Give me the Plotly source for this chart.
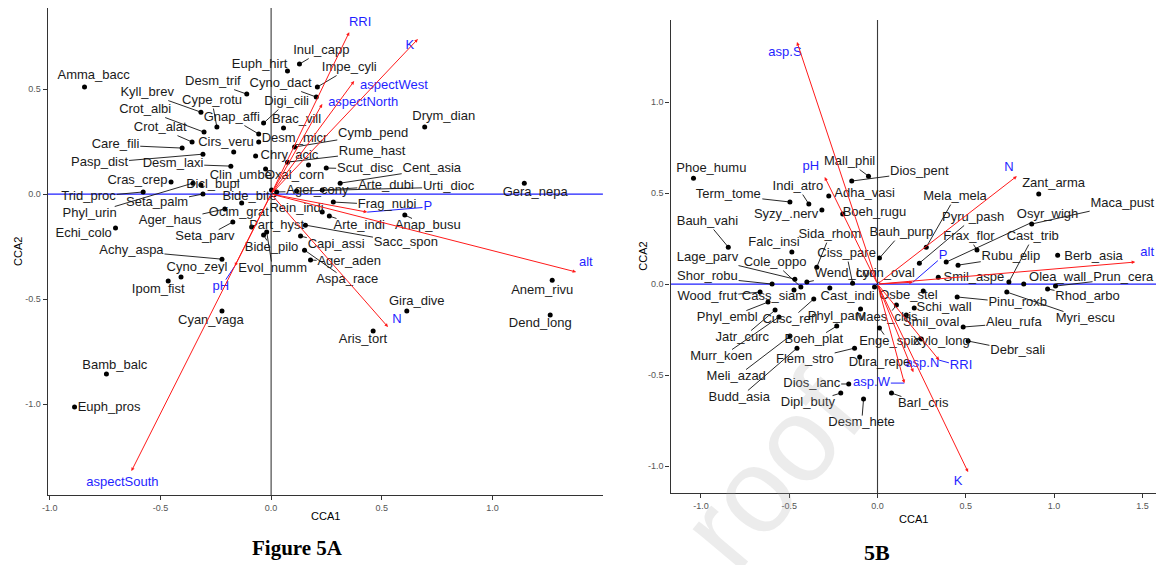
import math
import plotly.graph_objects as go

# ================= Figure 5A (species scores, CCA1/CCA2) =================
species_a = ["Amma_bacc", "Kyll_brev", "Crot_albi", "Crot_alat", "Care_fili", "Pasp_dist",
             "Desm_laxi", "Cirs_veru", "Cype_rotu", "Gnap_affi", "Desm_trif", "Euph_hirt",
             "Inul_capp", "Impe_cyli", "Cyno_dact", "Digi_cili", "Brac_vill", "Desm_micr",
             "Chry_acic", "Clin_umbe", "Oxal_corn", "Cymb_pend", "Rume_hast", "Scut_disc",
             "Cent_asia", "Arte_dubi", "Urti_dioc", "Ager_cony", "Gera_nepa", "Drym_dian",
             "Frag_nubi", "Anap_busu", "Arte_indi", "Rein_indi", "Sacc_spon", "Capi_assi",
             "Ager_aden", "Aspa_race", "Part_hyst", "Bide_pilo", "Evol_numm", "Bide_bite",
             "Ocim_grat", "Ager_haus", "Seta_parv", "Achy_aspa", "Cyno_zeyl", "Ipom_fist",
             "Cyan_vaga", "Echi_colo", "Phyl_urin", "Trid_proc", "Seta_palm", "Dicl_bupl",
             "Cras_crep", "Gira_dive", "Aris_tort", "Anem_rivu", "Dend_long", "Bamb_balc",
             "Euph_pros"]
cca1_a = [-0.843, -0.317, -0.303, -0.357, -0.402, -0.308, -0.182, -0.169, -0.245, -0.056,
          -0.110, 0.074, 0.128, 0.209, 0.204, -0.034, 0.056, -0.056, -0.070, -0.025,
          0.169, 0.106, 0.074, 0.249, 0.312, 0.231, 0.115, 0.025, 1.144, 0.694,
          0.281, 0.604, 0.263, 0.231, 0.155, 0.133, 0.178, 0.151, -0.088, -0.034,
          -0.020, 0.002, -0.133, -0.209, -0.173, -0.222, -0.407, -0.465, -0.222, -0.703,
          -0.353, -0.578, -0.308, -0.317, -0.452, 0.613, 0.461, 1.270, 1.261, -0.744,
          -0.888]
cca2_a = [0.510, 0.390, 0.295, 0.248, 0.219, 0.190, 0.133, 0.200, 0.319, 0.286,
          0.476, 0.586, 0.619, 0.510, 0.462, 0.338, 0.314, 0.248, 0.181, 0.119,
          0.138, 0.224, 0.152, 0.124, 0.052, 0.019, 0.014, 0.010, 0.052, 0.319,
          -0.038, -0.100, -0.105, -0.086, -0.148, -0.200, -0.314, -0.267, -0.157, -0.195,
          -0.181, 0.019, -0.043, -0.071, -0.133, -0.310, -0.395, -0.414, -0.557, -0.162,
          0.052, 0.010, 0.000, 0.043, 0.057, -0.557, -0.652, -0.410, -0.576, -0.857,
          -1.014]
# repelled label positions (data units)
label_a_x = [-0.802, -0.560, -0.569, -0.501, -0.703, -0.775, -0.443, -0.204, -0.267, -0.178,
             -0.263, -0.052, 0.227, 0.353, 0.043, 0.070, 0.115, 0.106, 0.083, -0.137,
             0.106, 0.461, 0.456, 0.425, 0.726, 0.519, 0.802, 0.209, 1.193, 0.780,
             0.524, 0.708, 0.398, 0.115, 0.609, 0.294, 0.353, 0.344, 0.025, 0.002,
             0.007, -0.097, -0.146, -0.456, -0.299, -0.631, -0.335, -0.510, -0.272, -0.847,
             -0.820, -0.825, -0.515, -0.263, -0.604, 0.658, 0.415, 1.225, 1.216, -0.706,
             -0.732]
label_a_y = [0.562, 0.481, 0.400, 0.314, 0.233, 0.148, 0.143, 0.243, 0.443, 0.362,
             0.533, 0.614, 0.681, 0.600, 0.524, 0.438, 0.352, 0.262, 0.181, 0.086,
             0.086, 0.286, 0.200, 0.119, 0.119, 0.038, 0.033, 0.014, 0.005, 0.367,
             -0.052, -0.152, -0.152, -0.071, -0.233, -0.243, -0.324, -0.410, -0.152, -0.257,
             -0.357, -0.014, -0.090, -0.129, -0.205, -0.271, -0.352, -0.457, -0.605, -0.190,
             -0.095, -0.014, -0.043, 0.043, 0.062, -0.514, -0.695, -0.462, -0.619, -0.819,
             -1.019]

env_a = ["RRI", "K", "aspectWest", "aspectNorth", "P", "alt", "N", "pH", "aspectSouth"]
env_a_cca1 = [0.353, 0.663, 0.375, 0.231, 0.434, 1.378, 0.528, -0.164, -0.631]
env_a_cca2 = [0.771, 0.738, 0.538, 0.429, -0.086, -0.371, -0.633, -0.343, -1.319]
env_a_lab_x = [0.402, 0.627, 0.555, 0.416, 0.708, 1.422, 0.569, -0.227, -0.672]
env_a_lab_y = [0.814, 0.705, 0.514, 0.433, -0.062, -0.329, -0.600, -0.443, -1.376]

ticks_a_x = [-1.0, -0.5, 0.0, 0.5, 1.0]
ticks_a_y = [-1.0, -0.5, 0.0, 0.5]

# ================= Figure 5B =================
species_b = ["Phoe_humu", "Term_tome", "Indi_atro", "Syzy_.nerv", "Adha_vasi", "Mall_phil",
             "Dios_pent", "Boeh_rugu", "Bauh_vahi", "Falc_insi", "Sida_rhom", "Bauh_purp",
             "Ciss_pare", "Lage_parv", "Shor_robu", "Cole_oppo", "Wend_cori", "Lyon_oval",
             "Wood_frut", "Cass_siam", "Cast_indi", "Osbe_stel", "Phyl_embl", "Jatr_curc",
             "Murr_koen", "Meli_azad", "Budd_asia", "Cusc_refl", "Phyl_parv", "Maes_chis",
             "Boeh_plat", "Flem_stro", "Dura_repe", "Dios_lanc", "Dipl_buty", "Desm_hete",
             "Barl_cris", "Schi_wall", "Smil_oval", "Enge_spic", "Xylo_long", "Pinu_roxb",
             "Aleu_rufa", "Debr_sali", "Myri_escu", "Rhod_arbo", "Olea_wall", "Prun_cera",
             "Berb_asia", "Rubu_elip", "Smil_aspe", "Cast_trib", "Frax_flor", "Pyru_pash",
             "Mela_mela", "Osyr_wigh", "Maca_pust", "Zant_arma"]
cca1_b = [-1.042, -0.496, -0.389, -0.315, -0.276, -0.051, -0.146, -0.197, -0.845, -0.485,
          -0.344, 0.011, -0.141, -0.468, -0.597, -0.434, -0.400, -0.017, -0.665, -0.473,
          -0.270, 0.259, -0.620, -0.580, -0.558, -0.496, -0.456, -0.361, -0.096, 0.107,
          -0.231, -0.130, -0.101, -0.163, -0.208, -0.079, 0.079, 0.208, 0.163, 0.011,
          0.248, 0.451, 0.485, 0.513, 0.732, 0.963, 0.828, 1.008, 1.020, 0.456,
          0.344, 0.744, 0.563, 0.237, 0.276, 0.389, 0.873, 0.913]
cca2_b = [0.582, 0.451, 0.440, 0.407, 0.484, 0.593, 0.566, 0.385, 0.203, 0.176,
          0.093, 0.143, 0.005, 0.027, 0.000, -0.016, 0.011, -0.016, -0.044, -0.033,
          -0.022, -0.038, -0.099, -0.143, -0.181, -0.286, -0.352, -0.082, -0.137, -0.115,
          -0.231, -0.352, -0.401, -0.549, -0.599, -0.632, -0.599, -0.132, -0.170, -0.242,
          -0.302, -0.071, -0.236, -0.313, -0.044, -0.027, 0.000, -0.011, 0.159, 0.104,
          0.038, 0.011, 0.187, 0.115, 0.203, 0.121, 0.330, 0.495]
label_b_x = [-0.941, -0.845, -0.451, -0.518, -0.073, -0.158, 0.237, -0.017, -0.963, -0.586,
             -0.270, 0.135, -0.175, -0.963, -0.963, -0.580, -0.180, 0.045, -0.963, -0.586,
             -0.169, 0.175, -0.851, -0.766, -0.885, -0.800, -0.783, -0.496, -0.231, 0.051,
             -0.361, -0.411, 0.011, -0.372, -0.394, -0.090, 0.259, 0.377, 0.304, 0.068,
             0.361, 0.794, 0.772, 0.794, 1.177, 1.189, 1.020, 1.392, 1.223, 0.755,
             0.546, 0.879, 0.518, 0.541, 0.439, 0.963, 1.386, 0.997]
label_b_y = [0.632, 0.489, 0.533, 0.379, 0.495, 0.670, 0.615, 0.390, 0.341, 0.225,
             0.269, 0.280, 0.165, 0.143, 0.038, 0.115, 0.055, 0.055, -0.071, -0.071,
             -0.071, -0.066, -0.187, -0.297, -0.401, -0.511, -0.626, -0.198, -0.181, -0.187,
             -0.308, -0.418, -0.434, -0.549, -0.654, -0.764, -0.659, -0.132, -0.214, -0.319,
             -0.319, -0.104, -0.214, -0.368, -0.192, -0.071, 0.033, 0.033, 0.148, 0.148,
             0.033, 0.258, 0.258, 0.363, 0.478, 0.379, 0.440, 0.549]

env_b = ["asp.S", "pH", "N", "P", "alt", "RRI", "asp.N", "asp.W", "K"]
env_b_cca1 = [-0.456, -0.299, 0.789, 0.200, 1.459, 0.349, 0.203, 0.152, 0.513]
env_b_cca2 = [1.330, 0.588, 0.593, 0.010, 0.121, -0.418, -0.484, -0.544, -1.033]
env_b_lab_x = [-0.524, -0.377, 0.744, 0.372, 1.527, 0.473, 0.254, -0.034, 0.456]
env_b_lab_y = [1.269, 0.643, 0.637, 0.154, 0.170, -0.451, -0.440, -0.544, -1.088]

ticks_b_x = [-1.0, -0.5, 0.0, 0.5, 1.0, 1.5]
ticks_b_y = [-1.0, -0.5, 0.0, 0.5, 1.0]

# ================= layout geometry =================
W, H = 1158, 565
FONT = "Liberation Sans, Arial, sans-serif"
SERIF = "Liberation Serif, Times New Roman, serif"
LABEL_SIZE = 13

panels = [
    dict(xpx=(42, 600), ypx=(8, 495), xr=(-1.009, 1.499), yr=(-1.433, 0.886), xa="x", ya="y",
         sp=species_a, px_=cca1_a, py_=cca2_a, lx=label_a_x, ly=label_a_y,
         env=env_a, ex=env_a_cca1, ey=env_a_cca2, elx=env_a_lab_x, ely=env_a_lab_y,
         tx=ticks_a_x, ty=ticks_a_y),
    dict(xpx=(668, 1156), ypx=(20, 493), xr=(-1.172, 1.577), yr=(-1.148, 1.451), xa="x2", ya="y2",
         sp=species_b, px_=cca1_b, py_=cca2_b, lx=label_b_x, ly=label_b_y,
         env=env_b, ex=env_b_cca1, ey=env_b_cca2, elx=env_b_lab_x, ely=env_b_lab_y,
         tx=ticks_b_x, ty=ticks_b_y),
]

AW = dict(zip("abcdefghijklmnopqrstuvwxyz",
              [556, 556, 500, 556, 556, 278, 556, 556, 222, 222, 500, 222, 833, 556, 556, 556,
               556, 333, 500, 278, 556, 500, 722, 500, 500, 500]))
AW.update(dict(zip("ABCDEFGHIJKLMNOPQRSTUVWXYZ",
                   [667, 667, 722, 722, 667, 611, 778, 722, 278, 500, 667, 556, 833, 722, 778,
                    667, 778, 722, 667, 611, 722, 667, 944, 667, 667, 611])))
AW.update({"_": 556, ".": 278})


def text_w(s, size=LABEL_SIZE):
    return sum(AW.get(c, 556) for c in s) * size / 1000.0


def to_px(p, x, y):
    x0, x1 = p["xpx"]
    y0, y1 = p["ypx"]
    r0, r1 = p["xr"]
    s0, s1 = p["yr"]
    return (x0 + (x - r0) / (r1 - r0) * (x1 - x0), y1 - (y - s0) / (s1 - s0) * (y1 - y0))


def to_data(p, X, Y):
    x0, x1 = p["xpx"]
    y0, y1 = p["ypx"]
    r0, r1 = p["xr"]
    s0, s1 = p["yr"]
    return (r0 + (X - x0) / (x1 - x0) * (r1 - r0), s0 + (y1 - Y) / (y1 - y0) * (s1 - s0))


def leader(p, x, y, lx, ly, text, minlen):
    """Segment from a point to the edge of its label box (ggrepel style)."""
    PX, PY = to_px(p, x, y)
    CX, CY = to_px(p, lx, ly)
    hw, hh = text_w(text) / 2 + 1, 7.5
    dx, dy = PX - CX, PY - CY
    if abs(dx) <= hw and abs(dy) <= hh:
        return None
    t = min(hw / abs(dx) if dx else 1e9, hh / abs(dy) if dy else 1e9)
    EX, EY = CX + t * dx, CY + t * dy
    if math.hypot(PX - EX, PY - EY) < minlen:
        return None
    return to_data(p, EX, EY)


fig = go.Figure()
annotations = []
shapes = []

for i, p in enumerate(panels):
    xa, ya = p["xa"], p["ya"]
    # leader segments for species
    sx, sy = [], []
    for name, x, y, lx, ly in zip(p["sp"], p["px_"], p["py_"], p["lx"], p["ly"]):
        e = leader(p, x, y, lx, ly, name, 6)
        if e:
            sx += [x, e[0], None]
            sy += [y, e[1], None]
    fig.add_trace(go.Scatter(x=sx, y=sy, mode="lines", xaxis=xa, yaxis=ya,
                             line=dict(color="#111111", width=0.9), hoverinfo="skip",
                             showlegend=False))
    # blue segments for env labels
    bx, by = [], []
    for name, x, y, lx, ly in zip(p["env"], p["ex"], p["ey"], p["elx"], p["ely"]):
        e = leader(p, x, y, lx, ly, name, 8)
        if e:
            bx += [x, e[0], None]
            by += [y, e[1], None]
    fig.add_trace(go.Scatter(x=bx, y=by, mode="lines", xaxis=xa, yaxis=ya,
                             line=dict(color="#1f1fff", width=1), hoverinfo="skip",
                             showlegend=False))
    # species points
    fig.add_trace(go.Scatter(x=p["px_"], y=p["py_"], mode="markers", xaxis=xa, yaxis=ya,
                             marker=dict(color="black", size=5), text=p["sp"],
                             showlegend=False))
    # species labels
    fig.add_trace(go.Scatter(x=p["lx"], y=p["ly"], mode="text", text=p["sp"], xaxis=xa, yaxis=ya,
                             textposition="middle center", cliponaxis=False,
                             textfont=dict(size=LABEL_SIZE, color="#1a1a1a", family=FONT),
                             hoverinfo="skip", showlegend=False))
    # env labels
    fig.add_trace(go.Scatter(x=p["elx"], y=p["ely"], mode="text", text=p["env"], xaxis=xa, yaxis=ya,
                             textposition="middle center", cliponaxis=False,
                             textfont=dict(size=LABEL_SIZE, color="#1f1fff", family=FONT),
                             hoverinfo="skip", showlegend=False))
    # env arrows
    for x, y in zip(p["ex"], p["ey"]):
        annotations.append(dict(x=x, y=y, ax=0, ay=0, xref=xa, yref=ya, axref=xa, ayref=ya,
                                text="", showarrow=True, arrowhead=2, arrowsize=0.7,
                                arrowwidth=1, arrowcolor="#ff1a1a", standoff=0, startstandoff=0))
    # zero lines
    shapes.append(dict(type="line", xref=xa, yref=f"{ya} domain", x0=0, x1=0, y0=0, y1=1,
                       line=dict(color="#3a3a3a", width=1.1), layer="below"))
    shapes.append(dict(type="line", xref=f"{xa} domain", yref=ya, x0=0, x1=1, y0=0, y1=0,
                       line=dict(color="#1f1fff", width=1.3), layer="below"))

axis_common = dict(showline=True, linecolor="#333333", linewidth=1.2, ticks="outside",
                   ticklen=4, tickwidth=1, tickcolor="#333333", showgrid=False, zeroline=False,
                   tickfont=dict(size=9, color="#555555", family=FONT), fixedrange=True)

layout_axes = {}
for i, p in enumerate(panels):
    sfx = "" if i == 0 else "2"
    layout_axes["xaxis" + sfx] = dict(axis_common, domain=[p["xpx"][0] / W, p["xpx"][1] / W],
                                      range=list(p["xr"]), anchor=p["ya"],
                                      tickvals=p["tx"], ticktext=[f"{v:.1f}" for v in p["tx"]])
    layout_axes["yaxis" + sfx] = dict(axis_common,
                                      domain=[1 - p["ypx"][1] / H, 1 - p["ypx"][0] / H],
                                      range=list(p["yr"]), anchor=p["xa"],
                                      tickvals=p["ty"], ticktext=[f"{v:.1f}" for v in p["ty"]])


def paper_note(text, X, Y, size, family=FONT, color="black", angle=0, bold=False):
    return dict(text=f"<b>{text}</b>" if bold else text, x=X / W, y=1 - Y / H,
                xref="paper", yref="paper", showarrow=False, textangle=angle,
                font=dict(size=size, family=family, color=color),
                xanchor="center", yanchor="middle")


annotations += [
    paper_note("CCA1", 321, 516, 11),
    paper_note("CCA2", 12, 251, 11, angle=-90),
    paper_note("CCA1", 912, 519, 11),
    paper_note("CCA2", 640, 256, 11, angle=-90),
    paper_note("Figure 5A", 293, 548, 21, family=SERIF, bold=True),
    paper_note("5B", 876, 552, 22, family=SERIF, bold=True),
    paper_note("roof", 768, 470, 120, color="rgba(170,170,170,0.22)", angle=-50),
]

fig.update_layout(width=W, height=H, autosize=False, margin=dict(l=0, r=0, t=0, b=0),
                  paper_bgcolor="white", plot_bgcolor="white", showlegend=False,
                  annotations=annotations, shapes=shapes, **layout_axes)

fig.write_html("out.html", config={"displayModeBar": False},
               post_script="document.body.style.margin='0';")
